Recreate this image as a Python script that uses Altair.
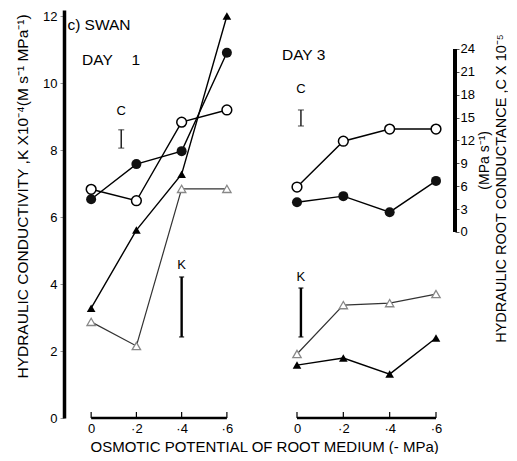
import altair as alt
import pandas as pd

# ---------------- data ----------------
x_vals = [0, 0.2, 0.4, 0.6]
x_labels = ["0", "·2", "·4", "·6"]
k_ticks = [0, 2, 4, 6, 8, 10, 12]
c_ticks = [0, 3, 6, 9, 12, 15, 18, 21, 24]

day1_k_filled = [3.28, 5.61, 7.28, 12.0]
day1_k_open = [2.87, 2.15, 6.84, 6.84]
day1_c_filled = [4.3, 8.9, 10.6, 23.5]
day1_c_open = [5.6, 4.1, 14.4, 16.0]

day3_k_filled = [1.58, 1.79, 1.31, 2.39]
day3_k_open = [1.91, 3.37, 3.43, 3.70]
day3_c_filled = [3.9, 4.7, 2.6, 6.7]
day3_c_open = [5.9, 11.9, 13.5, 13.5]

# LSD bars: [x, low, high]
day1_c_bar = [0.133, 11.0, 13.4]
day1_k_bar = [0.40, 2.42, 4.21]
day3_c_bar = [0.017, 13.9, 16.0]
day3_k_bar = [0.017, 2.42, 3.88]

FONT = "Liberation Sans"
K_DOMAIN = [0, 12.18]
C_DOMAIN = [-24.39, 29.11]
H = 408
X1_DOMAIN = [-0.12, 0.711]
W1 = 188
X3_DOMAIN = [-0.1165, 0.682]
W3 = 185

label_expr = "''"
for v, l in reversed(list(zip(x_vals, x_labels))):
    label_expr = f"abs(datum.value - {v}) < 1e-6 ? '{l}' : ({label_expr})"


def series_df(vals, name):
    return pd.DataFrame({"x": x_vals, "v": vals, "s": [name] * len(vals)})


def panel(kf, ko, cf, co, kbar, cbar, xdom, width, xaxis, kaxis, caxis,
          texts, big_texts):
    kscale = alt.Scale(domain=K_DOMAIN, nice=False, zero=False)
    cscale = alt.Scale(domain=C_DOMAIN, nice=False, zero=False)
    xscale = alt.Scale(domain=xdom, nice=False, zero=False)

    def X(field="x:Q"):
        return alt.X(field, scale=xscale, axis=xaxis)

    def KY(field):
        return alt.Y(field, scale=kscale, axis=kaxis)

    def CY(field):
        return alt.Y(field, scale=cscale, axis=caxis)

    # ---- K layers (triangles) ----
    dkf = series_df(kf, "filled")
    dko = series_df(ko, "open")
    k_line_f = alt.Chart(dkf).mark_line(color="black", strokeWidth=1.4).encode(
        x=X(), y=KY("v:Q"))
    k_line_o = alt.Chart(dko).mark_line(color="#333", strokeWidth=1.2).encode(
        x=X(), y=KY("v:Q"))
    k_pt_f = alt.Chart(dkf).mark_point(shape="triangle-up", filled=True, size=75,
                                       color="black", opacity=1).encode(
        x=X(), y=KY("v:Q"))
    k_pt_o = alt.Chart(dko).mark_point(shape="triangle-up", filled=False, size=70,
                                       fill="white", fillOpacity=1, stroke="#888",
                                       strokeWidth=1.3, opacity=1).encode(
        x=X(), y=KY("v:Q"))

    # x axis line from 0 to 0.6 and upward ticks
    axline = alt.Chart(pd.DataFrame({"x": [x_vals[0]], "x2": [x_vals[-1]], "y": [0]})
                       ).mark_rule(color="black", strokeWidth=2.6).encode(
        x=X(), x2="x2:Q", y=KY("y:Q"))
    axticks = alt.Chart(pd.DataFrame({"x": x_vals, "y": [0] * 4, "y2": [0.18] * 4})
                        ).mark_rule(color="black", strokeWidth=1.2).encode(
        x=X(), y=KY("y:Q"), y2="y2:Q")

    # K bar
    kb = pd.DataFrame({"x": [kbar[0]], "lo": [kbar[1]], "hi": [kbar[2]]})
    kbar_rule = alt.Chart(kb).mark_rule(color="black", strokeWidth=2.4).encode(
        x=X(), y=KY("lo:Q"), y2="hi:Q")
    kb_ends = pd.DataFrame({"x": [kbar[0]] * 2, "v": [kbar[1], kbar[2]]})
    kbar_caps = alt.Chart(kb_ends).mark_tick(color="black", orient="horizontal",
                                             size=5, thickness=1.5).encode(
        x=X(), y=KY("v:Q"))

    tdf = pd.DataFrame(texts)
    txt = alt.Chart(tdf).mark_text(font=FONT, fontSize=13, color="black",
                                   align="center", baseline="middle").encode(
        x=X(), y=KY("y:Q"), text="t:N")
    bdf = pd.DataFrame(big_texts)
    btxt = alt.Chart(bdf).mark_text(font=FONT, fontSize=15.5, color="black",
                                    align="left", baseline="middle").encode(
        x=X(), y=KY("y:Q"), text="t:N")

    k_layer = alt.layer(k_line_f, k_line_o, axline, axticks, kbar_rule, kbar_caps,
                        k_pt_o, k_pt_f, txt, btxt)

    # ---- C layers (circles) ----
    dcf = series_df(cf, "filled")
    dco = series_df(co, "open")
    c_line_f = alt.Chart(dcf).mark_line(color="black", strokeWidth=1.4).encode(
        x=X(), y=CY("v:Q"))
    c_line_o = alt.Chart(dco).mark_line(color="black", strokeWidth=1.4).encode(
        x=X(), y=CY("v:Q"))
    c_pt_f = alt.Chart(dcf).mark_point(shape="circle", filled=True, size=100,
                                       color="#111", opacity=1).encode(
        x=X(), y=CY("v:Q"))
    c_pt_o = alt.Chart(dco).mark_point(shape="circle", filled=False, size=95,
                                       fill="white", fillOpacity=1, stroke="black",
                                       strokeWidth=1.5, opacity=1).encode(
        x=X(), y=CY("v:Q"))
    cb = pd.DataFrame({"x": [cbar[0]], "lo": [cbar[1]], "hi": [cbar[2]]})
    cbar_rule = alt.Chart(cb).mark_rule(color="#222", strokeWidth=1.5).encode(
        x=X(), y=CY("lo:Q"), y2="hi:Q")
    cb_ends = pd.DataFrame({"x": [cbar[0]] * 2, "v": [cbar[1], cbar[2]]})
    cbar_caps = alt.Chart(cb_ends).mark_tick(color="#222", orient="horizontal",
                                             size=6, thickness=1.2).encode(
        x=X(), y=CY("v:Q"))
    c_layers = [c_line_f, c_line_o, c_pt_f, c_pt_o, cbar_rule, cbar_caps]
    if caxis is not None:
        cax = alt.Chart(pd.DataFrame({"lo": [c_ticks[0]], "hi": [c_ticks[-1]]})
                        ).mark_rule(color="black", strokeWidth=4).encode(
            x=alt.value(width), y=CY("lo:Q"), y2="hi:Q")
        unit = alt.Chart(pd.DataFrame({"y": [9.4], "t": ["(MPa s⁻¹)"]})).mark_text(
            font=FONT, fontSize=14, angle=270, color="black", align="center",
            baseline="middle").encode(
            x=alt.value(width + 30), y=CY("y:Q"), text="t:N")
        c_layers += [cax, unit]
    c_layer = alt.layer(*c_layers)

    return alt.layer(k_layer, c_layer).resolve_scale(y="independent").properties(
        width=width, height=H)


xaxis1 = alt.Axis(values=x_vals, labelExpr=label_expr, domain=False, ticks=False,
                  grid=False, labelFontSize=13, labelPadding=4,
                  title="OSMOTIC POTENTIAL OF ROOT MEDIUM (- MPa)",
                  titleX=26, titleY=28, titleAlign="left", titleBaseline="middle",
                  titleFontSize=15, titleFontWeight="normal")
xaxis3 = alt.Axis(values=x_vals, labelExpr=label_expr, domain=False, ticks=False,
                  grid=False, labelFontSize=13, labelPadding=4, title=None)
kaxis = alt.Axis(values=k_ticks, grid=False, domainWidth=3.5, domainColor="black",
                 tickSize=4, tickColor="#999", labelFontSize=13, labelPadding=3,
                 title="HYDRAULIC CONDUCTIVITY ,K X10⁻⁴(M s⁻¹ MPa⁻¹)",
                 titleAngle=270, titleX=-42, titleY=186, titleAlign="center",
                 titleBaseline="middle", titleFontSize=15.5,
                 titleFontWeight="normal")
caxis = alt.Axis(orient="right", values=c_ticks, grid=False, domain=False,
                 tickSize=4, tickColor="#555", labelFontSize=13, labelPadding=1,
                 title="HYDRAULIC ROOT CONDUCTANCE ,C X 10⁻⁵",
                 titleAngle=270, titleX=46, titleY=178, titleAlign="center",
                 titleBaseline="middle", titleFontSize=14.5,
                 titleFontWeight="normal")

p1 = panel(day1_k_filled, day1_k_open, day1_c_filled, day1_c_open,
           day1_k_bar, day1_c_bar, X1_DOMAIN, W1, xaxis1, kaxis, None,
           texts={"x": [0.133, 0.40], "y": [9.16, 4.57], "t": ["C", "K"]},
           big_texts={"x": [-0.105, -0.04, 0.178], "y": [11.73, 10.69, 10.69],
                      "t": ["c) SWAN", "DAY", "1"]})
p3 = panel(day3_k_filled, day3_k_open, day3_c_filled, day3_c_open,
           day3_k_bar, day3_c_bar, X3_DOMAIN, W3, xaxis3, None, caxis,
           texts={"x": [0.017, 0.017], "y": [9.82, 4.21], "t": ["C", "K"]},
           big_texts={"x": [-0.065], "y": [10.84], "t": ["DAY 3"]})

chart = alt.hconcat(p1, p3, spacing=18, bounds="flush").properties(
    padding={"left": 6, "top": 2, "right": 0, "bottom": 0}
).configure_view(stroke=None).configure_axis(
    labelFont=FONT, titleFont=FONT, labelColor="black", titleColor="black"
).configure_text(font=FONT)

chart.save("out.html", embed_options={"renderer": "svg", "actions": False})
